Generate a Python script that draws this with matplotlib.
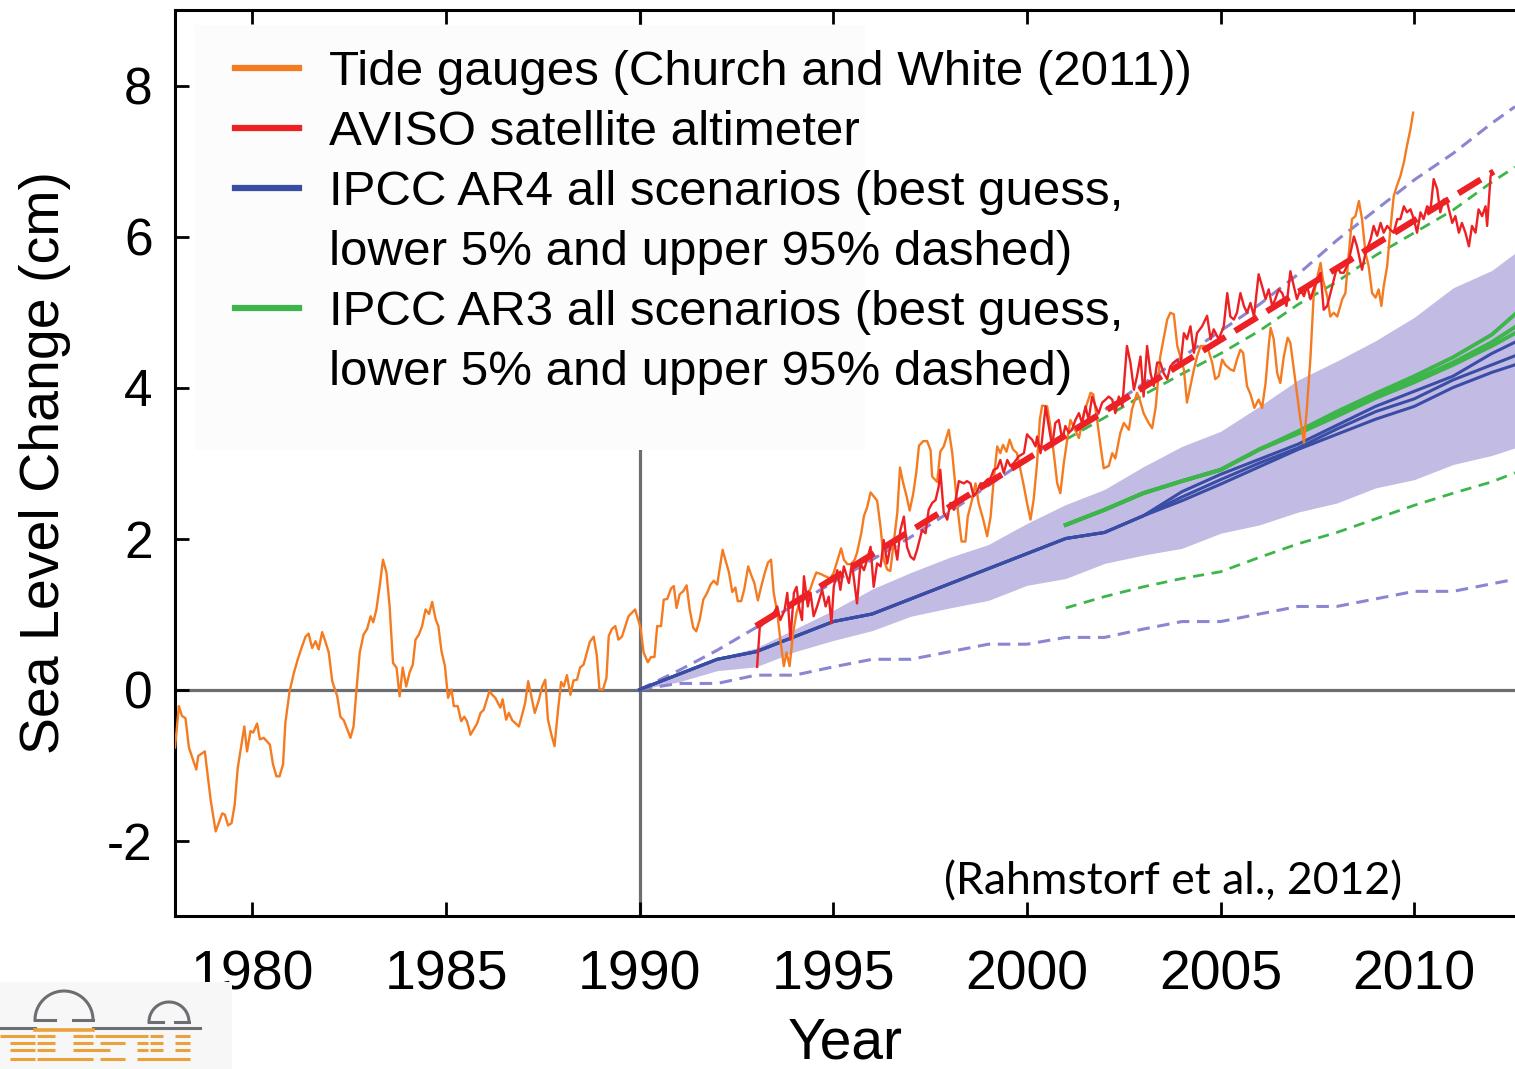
import numpy as np
import matplotlib
matplotlib.use("Agg")
import matplotlib.pyplot as plt
from matplotlib.lines import Line2D
from matplotlib.patches import Rectangle

plt.rcParams['font.family'] = ['Liberation Sans', 'DejaVu Sans']
plt.rcParams['lines.scale_dashes'] = False

# ---------------- data ----------------
tide_years = [1978.0, 1978.1, 1978.18, 1978.27, 1978.36, 1978.55, 1978.6, 1978.77, 1978.92, 1979.05,
              1979.22, 1979.29, 1979.37, 1979.46, 1979.54, 1979.62, 1979.79, 1979.86, 1979.95, 1980.02,
              1980.12, 1980.19, 1980.29, 1980.45, 1980.53, 1980.62, 1980.7, 1980.79, 1980.85, 1980.96,
              1981.07, 1981.17, 1981.28, 1981.37, 1981.45, 1981.54, 1981.63, 1981.71, 1981.8, 1981.88,
              1981.97, 1982.06, 1982.19, 1982.27, 1982.36, 1982.53, 1982.61, 1982.68, 1982.77, 1982.87,
              1982.96, 1983.05, 1983.12, 1983.2, 1983.29, 1983.37, 1983.46, 1983.54, 1983.63, 1983.72,
              1983.8, 1983.88, 1983.97, 1984.06, 1984.14, 1984.21, 1984.3, 1984.38, 1984.47, 1984.56,
              1984.64, 1984.73, 1984.8, 1984.88, 1984.97, 1985.05, 1985.14, 1985.2, 1985.3, 1985.39,
              1985.47, 1985.54, 1985.63, 1985.8, 1985.89, 1985.97, 1986.12, 1986.19, 1986.27, 1986.4,
              1986.46, 1986.55, 1986.62, 1986.71, 1986.88, 1986.96, 1987.04, 1987.12, 1987.2, 1987.29,
              1987.39, 1987.48, 1987.56, 1987.63, 1987.72, 1987.8, 1987.89, 1987.97, 1988.04, 1988.12,
              1988.21, 1988.29, 1988.38, 1988.46, 1988.55, 1988.71, 1988.81, 1988.89, 1988.96, 1989.05,
              1989.14, 1989.2, 1989.28, 1989.37, 1989.45, 1989.54, 1989.71, 1989.88, 1990.02, 1990.1,
              1990.21, 1990.29, 1990.38, 1990.45, 1990.55, 1990.62, 1990.71, 1990.81, 1990.88, 1990.95,
              1991.03, 1991.12, 1991.21, 1991.29, 1991.38, 1991.46, 1991.55, 1991.64, 1991.74, 1991.83,
              1991.91, 1992.0, 1992.14, 1992.22, 1992.3, 1992.39, 1992.47, 1992.53, 1992.62, 1992.7,
              1992.8, 1992.89, 1992.96, 1993.05, 1993.13, 1993.22, 1993.31, 1993.39, 1993.46, 1993.55,
              1993.63, 1993.72, 1993.79, 1993.87, 1993.96, 1994.05, 1994.15, 1994.24, 1994.34, 1994.41,
              1994.49, 1994.56, 1994.67, 1994.79, 1994.92, 1995.01, 1995.1, 1995.2, 1995.27, 1995.36,
              1995.46, 1995.55, 1995.61, 1995.72, 1995.79, 1995.87, 1995.96, 1996.04, 1996.13, 1996.22,
              1996.3, 1996.39, 1996.47, 1996.56, 1996.65, 1996.72, 1996.8, 1996.89, 1996.97, 1997.06,
              1997.14, 1997.21, 1997.32, 1997.42, 1997.51, 1997.55, 1997.68, 1997.76, 1997.85, 1997.98,
              1998.07, 1998.15, 1998.24, 1998.31, 1998.41, 1998.47, 1998.58, 1998.67, 1998.75, 1998.87,
              1998.97, 1999.06, 1999.14, 1999.23, 1999.31, 1999.38, 1999.47, 1999.55, 1999.64, 1999.74,
              1999.83, 1999.92, 2000.0, 2000.09, 2000.17, 2000.26, 2000.33, 2000.39, 2000.52, 2000.6,
              2000.69, 2000.78, 2000.86, 2000.95, 2001.05, 2001.12, 2001.34, 2001.47, 2001.64, 2001.71,
              2001.81, 2001.9, 2001.98, 2002.11, 2002.2, 2002.28, 2002.41, 2002.5, 2002.63, 2002.71,
              2002.84, 2002.91, 2003.01, 2003.14, 2003.23, 2003.32, 2003.44, 2003.62, 2003.7, 2003.79,
              2003.88, 2004.05, 2004.13, 2004.22, 2004.31, 2004.39, 2004.48, 2004.65, 2004.78, 2004.86,
              2004.95, 2005.04, 2005.12, 2005.25, 2005.34, 2005.42, 2005.51, 2005.58, 2005.68, 2005.77,
              2005.87, 2005.98, 2006.07, 2006.16, 2006.24, 2006.29, 2006.37, 2006.46, 2006.54, 2006.63,
              2006.73, 2006.8, 2006.89, 2006.97, 2007.06, 2007.15, 2007.23, 2007.32, 2007.4, 2007.49,
              2007.58, 2007.64, 2007.75, 2007.83, 2007.92, 2008.01, 2008.14, 2008.22, 2008.31, 2008.39,
              2008.48, 2008.57, 2008.65, 2008.74, 2008.82, 2008.91, 2009.0, 2009.08, 2009.15, 2009.21,
              2009.3, 2009.38, 2009.47, 2009.55, 2009.64, 2009.73, 2009.81, 2009.9, 2009.97]
tide_values = [-0.77, -0.22, -0.35, -0.38, -0.77, -1.06, -0.88, -0.82, -1.46, -1.88,
               -1.64, -1.66, -1.8, -1.77, -1.53, -1.04, -0.49, -0.82, -0.55, -0.57,
               -0.45, -0.66, -0.64, -0.73, -0.99, -1.15, -1.15, -0.99, -0.44, -0.02,
               0.22, 0.4, 0.57, 0.7, 0.74, 0.55, 0.64, 0.53, 0.76, 0.64,
               0.49, 0.11, -0.09, -0.36, -0.41, -0.64, -0.49, -0.04, 0.49, 0.73,
               0.8, 0.97, 0.89, 1.06, 1.39, 1.72, 1.55, 1.11, 0.35, 0.29,
               -0.09, 0.29, 0.04, 0.23, 0.33, 0.66, 0.73, 0.84, 1.06, 1.0,
               1.16, 0.93, 0.84, 0.51, 0.31, -0.11, 0.0, -0.22, -0.22, -0.42,
               -0.36, -0.42, -0.6, -0.45, -0.31, -0.27, -0.02, -0.07, -0.11, -0.24,
               -0.13, -0.4, -0.31, -0.41, -0.49, -0.34, -0.18, 0.11, -0.09, -0.31,
               -0.15, 0.04, 0.13, -0.4, -0.6, -0.75, -0.27, 0.1, 0.04, 0.19,
               -0.07, 0.12, 0.13, 0.29, 0.33, 0.63, 0.7, 0.46, 0.0, 0.0,
               0.15, 0.71, 0.8, 0.84, 0.66, 0.7, 0.97, 1.06, 0.82, 0.49,
               0.36, 0.43, 0.43, 0.84, 0.84, 1.19, 1.2, 1.34, 1.37, 1.08,
               1.26, 1.3, 1.38, 1.06, 0.82, 0.77, 0.93, 1.19, 1.28, 1.39,
               1.44, 1.39, 1.85, 1.7, 1.56, 1.29, 1.35, 1.17, 1.17, 1.33,
               1.63, 1.5, 1.41, 1.18, 1.35, 1.53, 1.68, 1.72, 1.28, 1.02,
               0.66, 0.31, 0.49, 0.31, 0.75, 1.02, 1.19, 1.26, 1.24, 1.34,
               1.46, 1.55, 1.53, 1.5, 1.47, 1.55, 1.7, 1.87, 1.72, 1.66,
               1.66, 1.72, 1.81, 2.07, 2.3, 2.41, 2.61, 2.56, 2.5, 2.14,
               1.72, 1.59, 1.57, 1.95, 2.34, 2.94, 2.74, 2.56, 2.37, 2.59,
               2.87, 3.23, 3.29, 3.29, 3.17, 2.82, 2.75, 3.15, 3.22, 3.44,
               3.13, 2.69, 2.25, 1.96, 1.96, 2.29, 2.51, 2.73, 2.47, 2.25,
               2.03, 2.29, 2.78, 3.22, 3.13, 3.24, 3.15, 3.31, 3.18, 3.13,
               2.91, 2.69, 2.47, 2.25, 2.51, 3.0, 3.57, 3.76, 3.75, 3.49,
               3.13, 2.73, 2.6, 3.0, 3.35, 3.57, 3.33, 3.66, 3.93, 3.91,
               3.57, 3.22, 2.93, 2.96, 3.13, 3.06, 3.4, 3.53, 3.44, 3.71,
               3.93, 3.84, 3.66, 3.53, 3.46, 3.73, 4.41, 4.9, 4.99, 4.97,
               4.55, 4.24, 3.8, 4.02, 4.24, 4.41, 4.55, 4.55, 4.33, 4.11,
               4.15, 4.37, 4.3, 4.24, 4.22, 4.37, 4.5, 4.46, 4.02, 3.91,
               3.73, 3.84, 3.73, 4.06, 4.55, 4.79, 4.64, 4.19, 4.06, 4.41,
               4.66, 4.59, 4.24, 3.93, 3.57, 3.27, 3.75, 4.41, 5.21, 5.45,
               5.65, 5.43, 5.21, 4.94, 4.99, 4.94, 5.17, 5.25, 5.78, 6.23,
               6.27, 6.47, 6.23, 5.78, 5.61, 5.25, 5.19, 5.3, 5.08, 5.34,
               5.61, 6.09, 6.54, 6.67, 6.8, 6.98, 7.2, 7.42, 7.64]

aviso_years = [1993.03, 1993.1, 1993.19, 1993.29, 1993.42, 1993.55, 1993.63, 1993.74, 1993.81, 1993.89,
               1993.98, 1994.05, 1994.11, 1994.19, 1994.24, 1994.34, 1994.41, 1994.49, 1994.58, 1994.71,
               1994.8, 1994.88, 1994.95, 1995.01, 1995.1, 1995.18, 1995.27, 1995.4, 1995.48, 1995.61,
               1995.7, 1995.79, 1995.87, 1995.96, 1996.04, 1996.13, 1996.22, 1996.3, 1996.39, 1996.47,
               1996.56, 1996.65, 1996.73, 1996.82, 1996.9, 1996.99, 1997.08, 1997.16, 1997.29, 1997.38,
               1997.46, 1997.55, 1997.64, 1997.72, 1997.76, 1997.85, 1997.94, 1998.02, 1998.11, 1998.24,
               1998.37, 1998.45, 1998.54, 1998.62, 1998.71, 1998.8, 1998.88, 1998.97, 1999.06, 1999.14,
               1999.23, 1999.31, 1999.4, 1999.49, 1999.57, 1999.66, 1999.79, 1999.92, 2000.0, 2000.05,
               2000.13, 2000.22, 2000.26, 2000.35, 2000.48, 2000.56, 2000.65, 2000.73, 2000.82, 2000.91,
               2000.99, 2001.08, 2001.16, 2001.25, 2001.34, 2001.42, 2001.51, 2001.59, 2001.68, 2001.77,
               2001.85, 2001.94, 2002.03, 2002.11, 2002.2, 2002.28, 2002.37, 2002.46, 2002.58, 2002.67,
               2002.76, 2002.84, 2002.93, 2003.01, 2003.1, 2003.19, 2003.27, 2003.36, 2003.44, 2003.53,
               2003.62, 2003.7, 2003.79, 2003.88, 2003.96, 2004.05, 2004.13, 2004.22, 2004.31, 2004.39,
               2004.52, 2004.65, 2004.74, 2004.82, 2004.95, 2005.08, 2005.17, 2005.25, 2005.34, 2005.42,
               2005.51, 2005.6, 2005.68, 2005.77, 2005.86, 2005.98, 2006.07, 2006.16, 2006.24, 2006.33,
               2006.41, 2006.5, 2006.59, 2006.7, 2006.8, 2006.89, 2006.97, 2007.06, 2007.15, 2007.23,
               2007.32, 2007.4, 2007.49, 2007.58, 2007.66, 2007.75, 2007.88, 2008.01, 2008.09, 2008.18,
               2008.26, 2008.35, 2008.44, 2008.52, 2008.65, 2008.74, 2008.87, 2008.95, 2009.04, 2009.13,
               2009.21, 2009.3, 2009.38, 2009.47, 2009.56, 2009.64, 2009.73, 2009.81, 2009.9, 2009.99,
               2010.07, 2010.16, 2010.24, 2010.33, 2010.42, 2010.5, 2010.59, 2010.67, 2010.76, 2010.85,
               2010.98, 2011.06, 2011.15, 2011.23, 2011.32, 2011.41, 2011.49, 2011.58, 2011.66, 2011.75,
               2011.84, 2011.88, 2011.97, 2012.01]
aviso_values = [0.3, 0.83, 0.87, 0.92, 0.97, 1.1, 0.92, 1.05, 1.28, 0.66,
                1.28, 1.36, 1.1, 0.92, 1.5, 1.1, 1.28, 0.97, 1.1, 1.32,
                1.1, 1.23, 0.88, 1.36, 1.58, 1.32, 1.63, 1.41, 1.67, 1.14,
                1.67, 1.58, 1.72, 1.89, 1.36, 1.67, 1.63, 1.98, 1.67, 1.89,
                1.98, 1.72, 2.11, 2.29, 1.89, 1.76, 1.72, 1.85, 2.11, 2.07,
                2.38, 2.47, 2.51, 2.69, 2.91, 2.34, 2.25, 2.47, 2.38, 2.76,
                2.73, 2.76, 2.73, 2.56, 2.62, 2.73, 2.73, 2.78, 2.8, 2.91,
                2.93, 3.04, 2.87, 3.04, 2.96, 3.0, 3.09, 3.13, 3.38, 3.35,
                3.31, 3.22, 3.35, 3.13, 3.75, 3.49, 3.22, 3.53, 3.57, 3.31,
                3.49, 3.4, 3.44, 3.57, 3.66, 3.53, 3.75, 3.57, 3.88, 3.75,
                3.66, 3.8, 3.84, 3.88, 3.84, 3.66, 3.88, 3.75, 4.55, 4.33,
                3.97, 4.15, 4.41, 3.88, 4.55, 4.19, 4.02, 4.33, 4.33, 4.19,
                4.11, 4.28, 4.33, 4.37, 4.28, 4.72, 4.64, 4.81, 4.46, 4.72,
                4.81, 4.95, 4.64, 4.77, 4.64, 4.81, 5.25, 4.94, 4.9, 4.99,
                5.25, 5.08, 4.99, 5.12, 4.94, 5.5, 5.34, 5.17, 5.3, 5.08,
                5.17, 5.3, 5.25, 5.08, 5.54, 5.34, 5.17, 5.3, 5.21, 5.34,
                5.17, 5.3, 5.43, 5.52, 5.03, 5.08, 5.34, 5.61, 5.52, 5.52,
                5.61, 5.78, 6.0, 5.87, 5.56, 5.78, 5.96, 6.14, 6.01, 6.18,
                6.05, 6.14, 6.09, 6.05, 6.23, 6.23, 6.4, 6.32, 6.36, 6.23,
                6.05, 6.32, 6.23, 6.4, 6.36, 6.76, 6.63, 6.32, 6.49, 6.45,
                6.18, 6.27, 6.05, 6.18, 6.05, 5.87, 6.14, 6.05, 6.36, 6.27,
                6.4, 6.14, 6.8, 6.85]

aviso_trend_years = [1993.0, 2012.05]
aviso_trend_values = [0.84, 6.86]

ar4_years = [1990, 1991, 1992, 1993, 1994, 1995, 1996, 1997, 1998, 1999, 2000, 2001,
             2002, 2003, 2004, 2005, 2006, 2007, 2008, 2009, 2010, 2011, 2012, 2012.6]
ar4_best_a = [0, 0.2, 0.4, 0.5, 0.7, 0.9, 1.0, 1.2, 1.4, 1.6, 1.8, 2.0,
              2.08, 2.3, 2.62, 2.85, 3.05, 3.25, 3.5, 3.75, 3.95, 4.15, 4.45, 4.6]
ar4_best_b = [0, 0.2, 0.4, 0.5, 0.7, 0.9, 1.0, 1.2, 1.4, 1.6, 1.8, 2.0,
              2.08, 2.3, 2.55, 2.78, 3.0, 3.2, 3.45, 3.68, 3.85, 4.1, 4.3, 4.42]
ar4_best_c = [0, 0.2, 0.4, 0.5, 0.7, 0.9, 1.0, 1.2, 1.4, 1.6, 1.8, 2.0,
              2.08, 2.3, 2.5, 2.72, 2.95, 3.18, 3.38, 3.58, 3.75, 4.0, 4.2, 4.3]
ar4_band_upper = [0, 0.2, 0.42, 0.55, 0.8, 1.05, 1.33, 1.55, 1.75, 1.92, 2.2, 2.45,
                  2.65, 2.95, 3.22, 3.42, 3.75, 4.1, 4.35, 4.62, 4.93, 5.32, 5.55, 5.78]
ar4_band_lower = [0, 0.1, 0.25, 0.3, 0.5, 0.65, 0.78, 0.97, 1.08, 1.18, 1.38, 1.47,
                  1.67, 1.78, 1.87, 2.07, 2.18, 2.35, 2.47, 2.67, 2.78, 2.98, 3.1, 3.2]
ar4_upper95 = [0, 0.25, 0.52, 0.82, 1.12, 1.42, 1.72, 2.02, 2.35, 2.7, 3.05, 3.4,
               3.7, 4.05, 4.4, 4.75, 5.1, 5.5, 5.95, 6.35, 6.75, 7.1, 7.5, 7.72]
ar4_lower5 = [0, 0.08, 0.08, 0.19, 0.19, 0.3, 0.4, 0.4, 0.5, 0.6, 0.6, 0.69,
              0.69, 0.8, 0.9, 0.9, 1.0, 1.1, 1.1, 1.2, 1.3, 1.3, 1.4, 1.46]

ar3_years = [2001, 2002, 2003, 2004, 2005, 2006, 2007, 2008, 2009, 2010, 2011, 2012, 2012.6]
ar3_best_a = [2.18, 2.38, 2.6, 2.76, 2.91, 3.18, 3.42, 3.68, 3.92, 4.15, 4.4, 4.7, 4.97]
ar3_best_b = [2.18, 2.38, 2.6, 2.76, 2.91, 3.18, 3.40, 3.64, 3.88, 4.1, 4.33, 4.6, 4.8]
ar3_best_c = [2.18, 2.38, 2.6, 2.76, 2.91, 3.18, 3.39, 3.62, 3.86, 4.07, 4.3, 4.55, 4.72]
ar3_upper95 = [3.31, 3.6, 3.9, 4.18, 4.45, 4.75, 5.1, 5.4, 5.75, 6.05, 6.35, 6.72, 6.92]
ar3_lower5 = [1.08, 1.23, 1.36, 1.47, 1.56, 1.75, 1.93, 2.08, 2.26, 2.44, 2.6, 2.75, 2.87]

x_ticks = [1980, 1985, 1990, 1995, 2000, 2005, 2010]
y_ticks = [-2, 0, 2, 4, 6, 8]

legend_labels = ["Tide gauges (Church and White (2011))",
                 "AVISO satellite altimeter",
                 "IPCC AR4 all scenarios (best guess,",
                 "lower 5% and upper 95% dashed)",
                 "IPCC AR3 all scenarios (best guess,",
                 "lower 5% and upper 95% dashed)"]

# ---------------- colours ----------------
ORANGE = '#F47B20'
RED = '#ED2024'
BLUE = '#3A4DA5'
BAND = '#C2BBE3'
LAV = '#8B86D2'
GREEN = '#3DB54A'
GRAY = '#6D6E71'

W, H = 1515, 1069
fig = plt.figure(figsize=(W / 100, H / 100), dpi=100)
ax = fig.add_axes([175 / W, (H - 916) / H, (W - 175) / W, 906 / H])

ax.set_xlim(1978, 2012.6)
ax.set_ylim(-3, 9)

# reference lines
ax.axhline(0, color=GRAY, lw=2.3, zorder=1.5)
ax.axvline(1990, color=GRAY, lw=2.3, zorder=1.5)

# legend background
ax.add_patch(Rectangle((20 / 1340, 1 - 440 / 906), 670 / 1340, 425 / 906,
                       transform=ax.transAxes, facecolor='#FCFCFC', edgecolor='none', zorder=1.8))

# AR4 band
ax.fill_between(ar4_years, ar4_band_lower, ar4_band_upper, color=BAND, lw=0, zorder=1)

# dashed ranges
ax.plot(ar4_years, ar4_upper95, color=LAV, lw=2.2, dashes=(9, 5.5), zorder=2)
ax.plot(ar4_years, ar4_lower5, color=LAV, lw=2.2, dashes=(9, 5.5), zorder=2)
ax.plot(ar3_years, ar3_upper95, color=GREEN, lw=2.0, dashes=(8, 5.5), zorder=2)
ax.plot(ar3_years, ar3_lower5, color=GREEN, lw=2.0, dashes=(8, 5.5), zorder=2)

# best guesses
for s in (ar4_best_a, ar4_best_b, ar4_best_c):
    ax.plot(ar4_years, s, color=BLUE, lw=2.2, zorder=3)
for s in (ar3_best_a, ar3_best_b, ar3_best_c):
    ax.plot(ar3_years, s, color=GREEN, lw=2.8, zorder=3.1)

# observations
ax.plot(tide_years, tide_values, color=ORANGE, lw=1.7, zorder=4)
ax.plot(aviso_years, aviso_values, color=RED, lw=1.7, zorder=5)
ax.plot(aviso_trend_years, aviso_trend_values, color=RED, lw=4.5, dashes=(19, 8), zorder=6)

# axes styling
for side in ('left', 'bottom', 'top'):
    ax.spines[side].set_linewidth(2.2)
ax.spines['right'].set_visible(False)
ax.set_xticks(x_ticks)
ax.set_yticks(y_ticks)
ax.set_yticklabels([str(v) for v in y_ticks])
ax.tick_params(axis='x', direction='in', top=True, bottom=True, length=10, width=2,
               labelsize=40, pad=24)
ax.tick_params(axis='y', direction='in', left=True, right=False, length=10, width=2,
               labelsize=37, pad=16)
ax.set_xlabel('Year', fontsize=41, labelpad=11)
ax.set_ylabel('Sea Level Change (cm)', fontsize=40, labelpad=26)

ax.text(1997.85, -2.55, '(Rahmstorf et al., 2012)', fontsize=32, ha='left', va='center',
        family=['Lato', 'DejaVu Sans'], zorder=7)

# legend
handles = [Line2D([], [], color=ORANGE, lw=4.5),
           Line2D([], [], color=RED, lw=4.5),
           Line2D([], [], color=BLUE, lw=4.5),
           Line2D([], [], color='none', lw=0),
           Line2D([], [], color=GREEN, lw=4.5),
           Line2D([], [], color='none', lw=0)]
leg = ax.legend(handles, legend_labels, loc='upper left',
                bbox_to_anchor=(60 / 1340, 1 - 40 / 906), frameon=False,
                fontsize=35.5, handlelength=1.3, handletextpad=0.6, labelspacing=0.305,
                borderpad=0, borderaxespad=0)
leg.set_zorder(8)

# logo (decorative)
lg = fig.add_axes([0, 0, 232 / W, 87 / H])
lg.set_xlim(0, 232)
lg.set_ylim(1069, 982)
lg.set_facecolor('#F7F7F7')
lg.set_xticks([]); lg.set_yticks([])
for sp in lg.spines.values():
    sp.set_visible(False)
LOGO_OR = '#E9A23B'
LOGO_GR = '#6D6E71'
t = np.linspace(0, np.pi, 60)
for cx, cy, r, f1, f2 in ((64, 1020, 29, 55, 73), (169, 1022, 20, 163, 175)):
    lg.plot(cx + r * np.cos(t), cy - r * np.sin(t), color=LOGO_GR, lw=2.2)
    lg.plot([cx - r, f1], [cy, cy], color=LOGO_GR, lw=2.2)
    lg.plot([f2, cx + r], [cy, cy], color=LOGO_GR, lw=2.2)
lg.plot([0, 35], [1028, 1028], color=LOGO_GR, lw=2.2)
lg.plot([93, 200], [1028, 1028], color=LOGO_GR, lw=2.2)
lg.plot([35, 93], [1030, 1030], color=LOGO_OR, lw=2.6)
rows = {1036: [(0, 35), (37, 55), (73, 93), (95, 148), (150, 163), (175, 190)],
        1043: [(10, 35), (37, 55), (73, 93), (100, 125), (137, 148), (150, 163), (175, 190)],
        1050: [(10, 35), (37, 55), (73, 110), (137, 148), (150, 163), (175, 190)],
        1059: [(10, 35), (37, 93), (100, 125), (137, 190)]}
for yy, segs in rows.items():
    for a, b in segs:
        lg.plot([a, b], [yy, yy], color=LOGO_OR, lw=2.2, solid_capstyle='butt')

fig.savefig('out.png', dpi=100)
